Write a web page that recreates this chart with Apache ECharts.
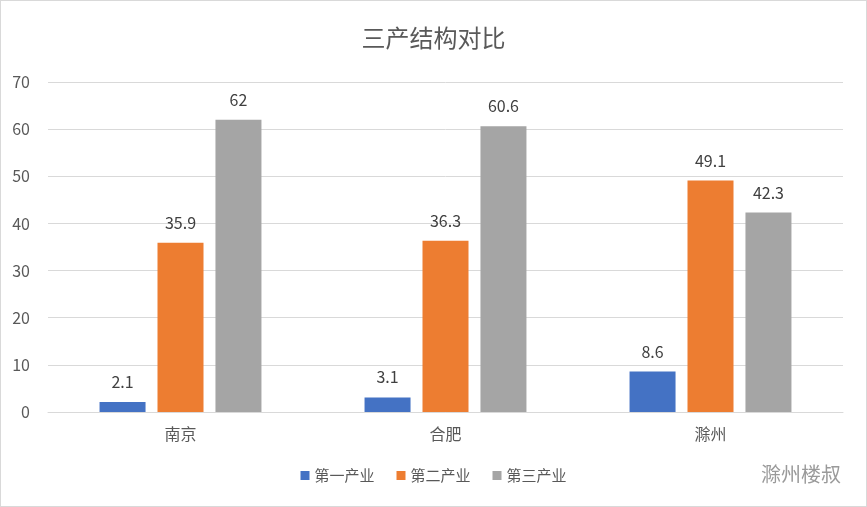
<!DOCTYPE html>
<html>
<head>
<meta charset="utf-8">
<script src="https://cdn.jsdelivr.net/npm/echarts@6/dist/echarts.min.js"></script>
<style>
  html, body { margin: 0; padding: 0; background: #fff; }
  #chart { width: 865px; height: 505px; border: 1px solid #d9d9d9; }
</style>
</head>
<body>
<div id="chart"></div>
<script>
const cities = ['南京', '合肥', '滁州'];
const primary = [2.1, 3.1, 8.6];
const secondary = [35.9, 36.3, 49.1];
const tertiary = [62, 60.6, 42.3];

const font = '"Noto Sans CJK SC", "Microsoft YaHei", sans-serif';
const label = { show: true, position: 'top', color: '#404040', fontSize: 16, distance: 12, fontFamily: font };

function bar(name, data, color) {
  return { name, type: 'bar', data, barWidth: 46, barGap: '26%', itemStyle: { color }, label };
}

const chart = echarts.init(document.getElementById('chart'));
chart.setOption({
  animation: false,
  textStyle: { fontFamily: font },
  title: {
    text: '三产结构对比', left: 'center', top: 20,
    textStyle: { fontSize: 24, fontWeight: 'normal', color: '#595959', fontFamily: font }
  },
  legend: {
    bottom: 18, itemWidth: 9, itemHeight: 9, itemGap: 22, icon: 'rect',
    textStyle: { fontSize: 15, color: '#595959', fontFamily: font }
  },
  grid: { left: 47, right: 23, top: 81, bottom: 94 },
  xAxis: {
    type: 'category', data: cities,
    axisLine: { lineStyle: { color: '#d9d9d9' } },
    axisTick: { show: false },
    axisLabel: { fontSize: 16, color: '#595959', margin: 14 }
  },
  yAxis: {
    type: 'value', min: 0, max: 70, interval: 10,
    axisLabel: { fontSize: 16, color: '#595959', margin: 18 },
    splitLine: { lineStyle: { color: '#d9d9d9' } }
  },
  series: [
    bar('第一产业', primary, '#4472c4'),
    bar('第二产业', secondary, '#ed7d31'),
    bar('第三产业', tertiary, '#a5a5a5')
  ],
  graphic: [{
    type: 'text', right: 25, bottom: 22,
    style: { text: '滁州楼叔', fontSize: 20, fill: '#9a9a9a', fontFamily: font }
  }]
});
</script>
</body>
</html>
